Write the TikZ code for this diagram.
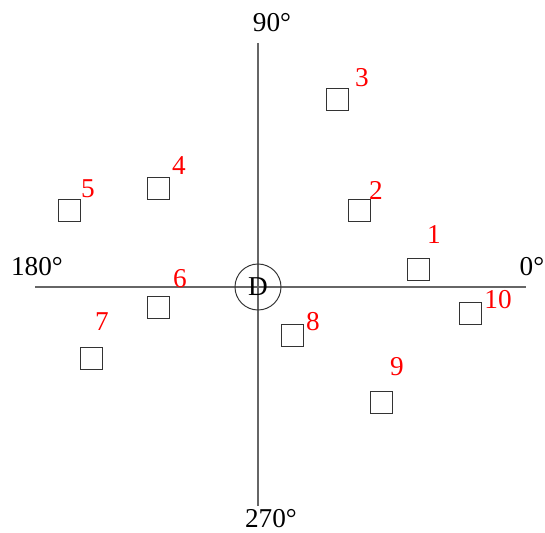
\documentclass[tikz,border=0pt]{standalone}
\usepackage{fontspec}
\setmainfont{Liberation Serif}
\usepackage{tikz}
\usetikzlibrary{positioning}

\begin{document}
\begin{tikzpicture}[x=0.02cm,y=-0.02cm,
    box/.style={draw=black!80, line width=0.55pt, minimum size=0.44cm, inner sep=0pt},
    num/.style={text=red, inner sep=0pt, font=\fontsize{15.5}{18}\selectfont},
    deg/.style={inner sep=0pt, font=\fontsize{15.5}{18}\selectfont}]

\useasboundingbox (0,0) rectangle (545,533);

\coordinate (W) at (35,287);
\coordinate (E) at (526,287);
\coordinate (N) at (258,43);
\coordinate (S) at (258,506);

\draw[black!60, line width=0.85pt] (W) -- (E);
\draw[black!60, line width=0.85pt] (N) -- (S);

\node[draw=black!80, line width=0.55pt, circle, minimum size=0.92cm, inner sep=0pt,
      font=\fontsize{15.5}{18}\selectfont] (D) at (258,287) {D};

\node[deg] (a90) at (272,23) {90°};
\node[deg] (a270) at (271,519) {270°};
\node[deg] (a180) at (37,267) {180°};
\node[deg] (a0) at (532,267) {0°};

\node[box] (b1) at (418,269) {};
\node[box] (b2) at (359,210) {};
\node[box] (b3) at (337,99) {};
\node[box] (b4) at (158,188) {};
\node[box] (b5) at (69,210) {};
\node[box] (b6) at (158,307) {};
\node[box] (b7) at (91,358) {};
\node[box] (b8) at (292,335) {};
\node[box] (b9) at (381,402) {};
\node[box] (b10) at (470,313) {};

\node[num] (n1) at (434,235) {1};
\node[num] (n2) at (376,190) {2};
\node[num] (n3) at (362,78) {3};
\node[num] (n4) at (179,166) {4};
\node[num] (n5) at (88,189) {5};
\node[num] (n6) at (180,279) {6};
\node[num] (n7) at (102,322) {7};
\node[num] (n8) at (313,322) {8};
\node[num] (n9) at (397,367) {9};
\node[num] (n10) at (498,300) {10};

\end{tikzpicture}
\end{document}
